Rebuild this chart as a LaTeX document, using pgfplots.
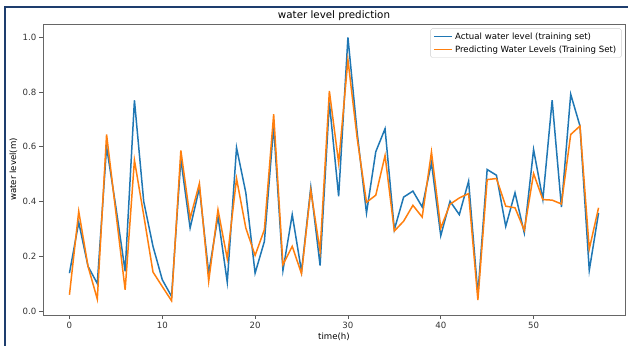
\documentclass[border=0pt]{standalone}
\usepackage{pgfplots}
\usepackage{pgfplotstable}
\pgfplotsset{compat=1.18}
\usepackage{fontspec}
\setmainfont{DejaVu Sans}
\definecolor{mblue}{HTML}{1F77B4}
\definecolor{morange}{HTML}{FF7F0E}
\definecolor{frame}{RGB}{30,62,110}

\pgfplotstableread{
t actual pred
0 0.138 0.059
1 0.324 0.364
2 0.163 0.163
3 0.100 0.043
4 0.600 0.645
5 0.380 0.360
6 0.145 0.077
7 0.770 0.551
8 0.400 0.350
9 0.236 0.142
10 0.114 0.089
11 0.053 0.037
12 0.554 0.587
13 0.303 0.338
14 0.450 0.466
15 0.138 0.108
16 0.346 0.370
17 0.105 0.191
18 0.597 0.484
19 0.432 0.303
20 0.138 0.203
21 0.254 0.297
22 0.676 0.719
23 0.148 0.169
24 0.352 0.236
25 0.144 0.136
26 0.452 0.441
27 0.166 0.218
28 0.762 0.804
29 0.419 0.541
30 1.000 0.918
31 0.650 0.630
32 0.358 0.397
33 0.582 0.423
34 0.666 0.568
35 0.297 0.292
36 0.416 0.328
37 0.438 0.386
38 0.380 0.343
39 0.542 0.581
40 0.275 0.303
41 0.401 0.390
42 0.352 0.413
43 0.474 0.429
44 0.060 0.040
45 0.517 0.480
46 0.496 0.484
47 0.309 0.383
48 0.432 0.377
49 0.285 0.295
50 0.590 0.502
51 0.407 0.407
52 0.770 0.405
53 0.380 0.391
54 0.792 0.645
55 0.676 0.676
56 0.148 0.226
57 0.358 0.377
}\datatable

\begin{document}
\begin{tikzpicture}
\fontsize{8.6bp}{10bp}\selectfont
\path[use as bounding box] (-43bp,-31bp) rectangle (585bp,315bp);
\begin{axis}[
  at={(0,0)}, anchor=south west,
  scale only axis, width=582bp, height=291bp,
  xmin=-2.85, xmax=59.85, ymin=-0.015, ymax=1.049,
  xtick={0,10,20,30,40,50},
  ytick={0,0.2,0.4,0.6,0.8,1.0},
  yticklabel style={/pgf/number format/.cd, fixed, fixed zerofill, precision=1},
  /pgf/number format/assume math mode=true,
  tick align=outside, tick pos=left,
  major tick length=3.6bp,
  every tick/.style={black!65, line width=0.6bp},
  axis line style={black!60, line width=0.7bp},
  ticklabel style={font=\fontsize{8.6bp}{10bp}\selectfont, text=black!80},
  every axis title shift=0pt,
  title={water level prediction},
  title style={at={(axis description cs:0.5,1.0302)}, anchor=center, font=\fontsize{10.3bp}{12bp}\selectfont},
  xlabel={time(h)},
  xlabel style={at={(axis description cs:0.5,-0.0746)}, anchor=center, font=\fontsize{8.6bp}{10bp}\selectfont},
  ylabel={water level(m)},
  ylabel style={at={(axis description cs:-0.0507,0.5)}, anchor=center, rotate=0, font=\fontsize{8.6bp}{10bp}\selectfont},
  legend style={at={(1,1)}, anchor=north east, xshift=-3.5bp, yshift=-4.5bp,
    draw=black!20, rounded corners=1.5bp, font=\fontsize{8.6bp}{10bp}\selectfont,
    row sep=1.2bp, inner xsep=3bp, inner ysep=2bp, fill=white},
  legend cell align=left,
  legend image code/.code={\draw[#1] (0bp,0bp) -- (18bp,0bp);},
  clip=true,
]
\addplot[mblue, line width=1.5bp] table[x=t, y=actual] {\datatable};
\addlegendentry{Actual water level (training set)}
\addplot[morange, line width=1.5bp] table[x=t, y=pred] {\datatable};
\addlegendentry{Predicting Water Levels (Training Set)}
\end{axis}
\draw[frame, line width=2bp] (-38bp,-31bp) -- (-38bp,307.5bp) -- (585bp,307.5bp);
\end{tikzpicture}
\end{document}
